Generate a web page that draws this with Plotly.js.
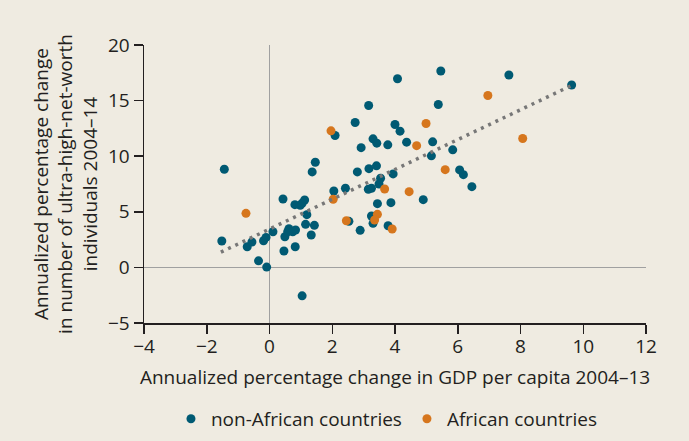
<!DOCTYPE html>
<html>
<head>
<meta charset="utf-8">
<script src="https://cdn.plot.ly/plotly-3.0.1.min.js"></script>
<style>html,body{margin:0;padding:0;background:#efebe1;}#chart{width:689px;height:441px;}</style>
</head>
<body>
<div id="chart"></div>
<script>
// non-African countries
const nonAfricanX = [4.08,3.16,-1.44,2.09,2.73,4.00,4.16,3.30,3.42,2.92,3.77,1.46,1.36,2.80,3.17,3.41,3.54,3.94,3.49,5.46,7.63,9.63,5.38,4.37,5.20,5.16,5.84,6.06,6.18,6.45,2.05,2.42,3.15,3.25,0.43,0.81,0.98,1.12,1.04,1.19,3.44,3.87,3.25,3.30,2.53,2.89,3.78,0.62,0.74,0.83,0.49,0.58,1.15,1.43,1.33,0.11,-0.11,-0.19,-1.52,-0.71,-0.56,0.46,0.82,-0.35,-0.09,1.04,4.90];
const nonAfricanY = [16.96,14.56,8.83,11.86,13.03,12.85,12.25,11.56,11.17,10.77,11.02,9.46,8.59,8.59,8.88,9.13,8.02,8.41,7.50,17.66,17.30,16.40,14.65,11.26,11.29,10.03,10.57,8.77,8.34,7.26,6.87,7.12,7.03,7.12,6.15,5.64,5.59,6.06,5.77,4.74,5.73,5.82,4.62,3.96,4.14,3.33,3.75,3.48,3.21,3.36,2.76,3.21,3.87,3.78,2.91,3.21,2.70,2.40,2.37,1.86,2.28,1.47,1.86,0.59,0.03,-2.56,6.09];
// African countries
const africanX = [1.96,3.67,6.96,4.99,4.69,8.07,5.60,4.45,2.03,-0.75,3.44,3.35,2.45,3.91];
const africanY = [12.28,7.05,15.46,12.94,10.95,11.59,8.79,6.81,6.13,4.86,4.77,4.26,4.20,3.45];
// trend line end points
const trendX = [-1.55, 9.6];
const trendY = [1.37, 16.32];
const xTicks = [-4,-2,0,2,4,6,8,10,12];
const yTicks = [-5,0,5,10,15,20];

const FONT = 'Open Sans, sans-serif';
const TXT = '#231f20';
const FS = 19;

const data = [
  {x: nonAfricanX, y: nonAfricanY, type: 'scatter', mode: 'markers', name: 'non-African countries',
   marker: {color: '#005a73', size: 9}},
  {x: africanX, y: africanY, type: 'scatter', mode: 'markers', name: 'African countries',
   marker: {color: '#d6761d', size: 9}},
  {x: trendX, y: trendY, type: 'scatter', mode: 'lines', showlegend: false, hoverinfo: 'skip',
   line: {color: '#777777', width: 3.5, dash: '3px,5px'}}
];

const layout = {
  width: 689, height: 441,
  paper_bgcolor: '#efebe1', plot_bgcolor: '#efebe1',
  margin: {l: 144, r: 43, t: 45, b: 118, autoexpand: false},
  font: {family: FONT, size: FS, color: TXT},
  showlegend: true,
  legend: {orientation: 'h', x: 0.484, xanchor: 'center', yref: 'container', y: 0.05, yanchor: 'middle',
           font: {family: FONT, size: FS, color: TXT}, bgcolor: 'rgba(0,0,0,0)', itemwidth: 30, tracegroupgap: 0},
  xaxis: {range: [-4, 12], tickvals: xTicks, ticktext: xTicks.map(v => v < 0 ? '\u2212' + Math.abs(v) : String(v)),
          showgrid: false, zeroline: true, zerolinecolor: '#a0a0a0', zerolinewidth: 1.5,
          showline: true, linecolor: TXT, linewidth: 1.5, ticks: 'outside', ticklen: 9, tickwidth: 1.5, tickcolor: TXT,
          ticklabelstandoff: -3,
          tickfont: {family: FONT, size: FS, color: TXT},
          title: {text: 'Annualized percentage change in GDP per capita 2004\u201313', font: {family: FONT, size: FS, color: TXT}, standoff: 12}},
  yaxis: {range: [-5, 20], tickvals: yTicks, ticktext: yTicks.map(v => v < 0 ? '\u2212' + Math.abs(v) : String(v)),
          showgrid: false, zeroline: true, zerolinecolor: '#a0a0a0', zerolinewidth: 1.5,
          showline: true, linecolor: TXT, linewidth: 1.5, ticks: 'outside', ticklen: 9, tickwidth: 1.5, tickcolor: TXT,
          tickfont: {family: FONT, size: FS, color: TXT},
          title: {text: 'Annualized percentage change<br>in number of ultra-high-net-worth<br>individuals 2004\u201314', font: {family: FONT, size: FS, color: TXT}, standoff: 5}}
};

Plotly.newPlot('chart', data, layout, {displayModeBar: false, staticPlot: true});
</script>
</body>
</html>
